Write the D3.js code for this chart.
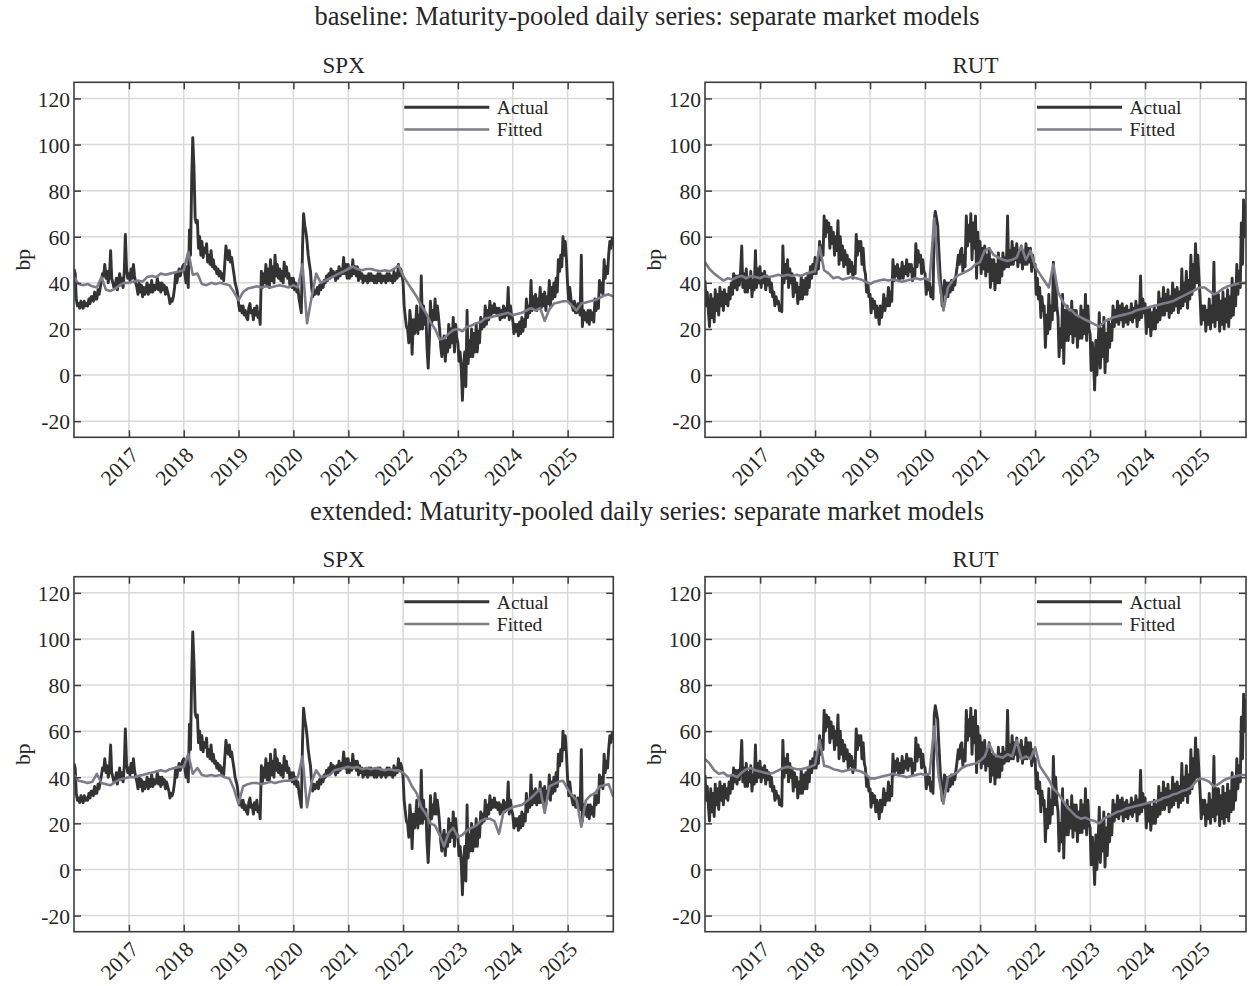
<!DOCTYPE html>
<html><head><meta charset="utf-8">
<script src="https://cdn.jsdelivr.net/npm/d3@7"></script>
<style>html,body{margin:0;padding:0;background:#fff;} svg{display:block;font-family:"Liberation Serif","Times New Roman",serif;}</style>
</head><body>
<script>
// ---- Data ----
// Actual series: four readings per month (≈weekly), Jan 2016 .. Oct 2025, plus end-of-Oct value
const actualSPX = [
46,44,33,30, 31,29,32,30, 29,32,30,31, 30,33,31,34, 34,32,36,33, 33,37,35,38, 41,44,43,48, 42,45,40,43, 54,42,40,38, 38,42,37,41, 44,39,42,38, 45,61,46,42,
44,41,46,42, 48,43,40,38, 35,40,36,39, 34,38,35,37, 40,35,39,36, 41,36,39,37, 38,42,37,40, 36,40,37,39, 35,38,36,34, 31,33,32,34, 38,44,40,43, 46,43,45,47,
48,44,40,47, 38,63,52,85, 103,90,68,66, 67,55,60,52, 58,51,55,53, 57,49,52,48, 54,47,50,46, 47,44,46,43, 45,42,44,41, 48,56,52,50, 54,49,51,47, 44,40,38,36,
31,28,30,27, 30,26,28,25, 24,29,31,27, 28,24,29,26, 30,25,27,22, 45,38,44,40, 48,39,46,38, 50,41,47,40, 52,43,48,42, 46,41,45,40, 49,43,47,42, 44,39,42,38,
42,37,40,36, 38,33,30,27, 55,70,65,62, 58,52,48,45, 38,34,37,35, 36,38,35,39, 37,40,38,41, 40,43,41,44, 42,46,43,45, 44,41,45,42, 47,43,46,44, 51,44,48,42,
48,42,46,43, 50,44,47,43, 47,41,45,42, 44,40,43,41, 43,40,44,41, 44,41,43,40, 43,40,44,41, 44,40,43,41, 43,40,44,41, 44,41,43,40, 45,41,44,42, 48,43,46,44,
40,30,25,21, 20,14,28,22, 9,24,18,22, 30,18,26,20, 43,20,30,22, 26,12,3,15, 32,22,28,24, 33,24,30,26, 20,12,8,14, 17,6,15,10, 22,12,20,14, 25,10,22,16,
14,6,10,2, -11,4,10,-5, 28,5,15,8, 20,8,18,10, 22,10,19,14, 25,20,24,21, 30,22,28,24, 32,26,30,27, 31,27,29,26, 29,24,28,25, 30,25,29,26, 38,24,30,26,
24,18,22,19, 22,17,23,18, 25,19,24,21, 33,25,30,27, 41,28,34,29, 35,28,33,29, 38,29,35,30, 36,28,34,31, 41,30,38,33, 40,34,42,36, 50,45,52,47, 60,52,58,50,
40,32,38,33, 30,28,32,27, 27,31,29,26, 52,21,28,24, 27,23,28,22, 28,24,27,23, 33,28,32,29, 41,36,40,35, 50,42,47,44, 52,58,55,59, 56
];
const actualRUT = [
41,30,36,27, 21,35,25,33, 23,37,28,35, 26,38,30,36, 28,37,31,35, 30,38,33,40, 35,44,38,43, 37,43,39,45, 56,38,44,36, 46,36,42,38, 45,34,41,37, 54,38,46,40,
47,38,44,40, 45,37,43,39, 42,36,40,34, 36,30,34,31, 32,28,30,27.5, 56,40,48,42, 50,38,46,40, 44,34,42,36, 40,31,38,33, 43,33,41,35, 42,35,44,38, 47,42,48,44,
51,44,50,46, 58,50,56,52, 69,60,67,62, 66,55,64,57, 62,52,60,54, 67,48,60,50, 56,47,54,48, 52,44,50,45, 49,42,47,44, 61,52,58,54, 58,48,55,46, 44,36,40,34,
35,27,33,29, 32,25,30,27, 22,30,25,28, 35,28,33,30, 38,30,36,32, 50,41,47,43, 48,41,46,42, 49,42,47,44, 50,43,48,45, 48,41,46,43, 57,47,54,49, 52,44,50,45,
44,35,41,37, 40,34,38,33, 67,71,68,65, 55,45,36,30, 36,41,35,40, 34,40,36,41, 37,41,39,43, 47,52,48,54, 55,45,52,47, 69,56,65,58, 70,50,66,55, 69,42,62,48,
58,44,55,46, 56,43,52,45, 55,38,50,41, 50,37,48,40, 53,40,50,43, 53,46,51,47, 69,47,54,48, 58,48,55,50, 57,47,54,49, 56,46,53,48, 57,48,55,49, 55,45,52,47,
48,35,42,33, 38,25,34,28, 30,12,26,18, 35,20,30,24, 49,28,40,30, 25,8,20,12, 35,5,28,15, 30,15,27,18, 32,14,28,17, 28,12,25,16, 30,16,28,18, 35,15,30,20,
18,2,14,6, -6.5,15,0,12, 27,3,20,8, 25,1,18,6, 24,12,22,15, 30,21,28,23, 32,22,30,24, 31,21,29,23, 30,22,28,24, 31,23,29,25, 32,21,30,24, 43,25,33,27,
31,18,28,21, 29,17,27,20, 30,20,28,23, 36,24,33,26, 38,26,35,28, 37,25,34,27, 40,28,37,30, 38,27,36,29, 46,30,40,32, 45,29,41,33, 52,35,48,38, 57,40,52,42,
34,22,30,24, 30,19,28,22, 33,20,30,23, 49,21,35,24, 35,19,32,22, 36,20,33,23, 37,21,34,25, 42,26,39,30, 48,35,45,38, 66,48,76,60, 74
];
// Fitted series: one reading per month, Jan 2016 .. Oct 2025, plus end-of-Oct value
const fittedSPXBaseline = [
42.5,39.5,39,39.5,38.5,38,42.5,37,36.5,37.5,39,40,
40,40.5,41,40.5,42.5,43,42.5,44,43.5,44,44.5,45,
45.5,53.5,43.5,44,39.5,39,40,39.5,40,39.5,39,36,
32.5,36,37.5,38,38.5,38,38.5,38,38.5,39,38.5,38,
39,38,48,22.5,34,44,40,41,42,43,44,45,
46,47,46,45.5,46,46,45.5,45,45.5,45,46,47.5,
43,40,37,34,30,27,23,20,15.5,16,18,19.5,
20,19,21,21.5,22.5,23,24.5,25,25.5,26,26.5,27,
26,26.5,27,28,29,28,29,23.5,28.5,31,31.5,32,
32,30,28,31,31.5,32,32.5,33.5,34.5,35, 34
];
const fittedRUTBaseline = [
49,46,44,42.5,41,42,41.5,42.5,43,42,43,42.5,
42,43,42.5,43,43.5,43,43.5,43,43.5,43,44,44.5,
45,55.5,45.5,44,42,42.5,41.5,42,42.5,42,41.5,40.5,
39.5,40.5,41,41.5,41,41.5,41,40.5,41,41.5,42,41.5,
42,41,68,42,28,38,41,43,44,45,46,48,
49,54,55,52,51,50,49.5,50,51,56,50,54,
47,44,41,38,48,36,32,29,28,26,25,24,
23,22,21,23,24,25,25.5,26,26.5,27,28,28.5,
29,29.5,30,30.5,31,31.5,32,33,34,35,36,37,
38,38,36.5,35,36,37.5,38.5,39,39.5,40, 40
];
const fittedSPXExtended = [
41,38.5,38,37.5,38,41.5,37.5,37,36.5,38,39,39.5,
40,40,40.5,41,41.5,42,42.5,43,42.5,43.5,44,44.5,
44.5,50,41.5,44,41,40.5,41,40.5,41,40,39.5,35,
28.5,36,37,37.5,37.5,37,37.5,38,37.5,38,38.5,38.5,
39,40,49,27,38,43,40,40.5,41,43,43.5,44,
44.5,44,44.5,43.5,44,43.5,44,43.5,43,43.5,43,43,
42,40,36,33,27,24,20,19,15,10,16,18,
14,15,17,18,19,21,22,22,21,15.5,25,26,
27,27.5,28,29.5,31,33,35,24.5,36,37,38,38.5,
35,32,30,18.5,30,32,33,36,36.5,37, 31.5
];
const fittedRUTExtended = [
48,46,43,41.5,42,40.5,41,40,42,43.5,44,43,
42.5,42,41.5,42,43,44,44.5,44,43.5,43.5,44,44.5,
45.5,56,45,44.5,43.5,43,42.5,43,43.5,43,42.5,41.5,
39.5,39.5,40,40.5,41,41.5,41,40.5,40,40.5,41,41.5,
41,41.5,62,40,28.5,40,41,42,44,45,45.5,46,
47,49,54.5,50,49,48.5,50,49,56,48,49,48,
53,45,42,39,35,33,30,27,25,23,22,22.5,
21.5,21,20,22,23,24,25,25.5,26.5,27,27.5,28,
28.5,29,29.5,30,31,31.5,32.5,33,34,34.5,35.5,38,
39.5,39,38,36,37,38.5,39.5,40,40.5,41, 41
];
const yTicks = [-20, 0, 20, 40, 60, 80, 100, 120];
const yearTicks = [2017, 2018, 2019, 2020, 2021, 2022, 2023, 2024, 2025];
const rowTitles = ["baseline: Maturity-pooled daily series: separate market models",
                   "extended: Maturity-pooled daily series: separate market models"];
const marketNames = ["SPX", "RUT"];
const legendLabels = ["Actual", "Fitted"];

// ---- Dates ----
const start = new Date(2016, 0, 1);
const weekDates = actualSPX.map((_, i) => d3.timeDay.offset(start, Math.round(i * 365.25 / 48)));
const monthDates = fittedSPXBaseline.map((_, i) => d3.timeDay.offset(start, Math.round(i * 365.25 / 12)));

// ---- Layout ----
const W = 1249, H = 986;
const FONT = "Liberation Serif";
const cols = [[74, 613.3], [705, 1246]];
const rows = [[82.3, 437.3], [576.7, 931.7]];
const C_ACT = "#333333", C_FIT = "#7d7c89", C_GRID = "#d9d9d9", C_AX = "#3d3d3d", C_TXT = "#262626";

const svg = d3.select("body").append("svg").attr("width", W).attr("height", H)
  .attr("font-family", FONT);

const panels = [
  {r:0, c:0, a:actualSPX, f:fittedSPXBaseline},
  {r:0, c:1, a:actualRUT, f:fittedRUTBaseline},
  {r:1, c:0, a:actualSPX, f:fittedSPXExtended},
  {r:1, c:1, a:actualRUT, f:fittedRUTExtended}
];

rowTitles.forEach((t, r) => {
  svg.append("text").attr("x", 647).attr("y", r === 0 ? 24.5 : 519.5)
    .attr("text-anchor", "middle").attr("font-family", FONT).attr("font-size", 26.5).attr("fill", C_TXT).text(t);
});

panels.forEach((p, k) => {
  const [x0, x1] = cols[p.c], [y0, y1] = rows[p.r];
  const x = d3.scaleTime().domain([start, weekDates[weekDates.length - 1]]).range([x0, x1]);
  const y = d3.scaleLinear().domain([-27, 127]).range([y1, y0]);
  const g = svg.append("g");
  const yearDates = yearTicks.map(yr => new Date(yr, 0, 1));

  // grid
  g.append("g").selectAll("line").data(yTicks).join("line")
    .attr("x1", x0).attr("x2", x1).attr("y1", d => y(d)).attr("y2", d => y(d))
    .attr("stroke", C_GRID).attr("stroke-width", 1.5);
  g.append("g").selectAll("line").data(yearDates).join("line")
    .attr("x1", d => x(d)).attr("x2", d => x(d)).attr("y1", y0).attr("y2", y1)
    .attr("stroke", C_GRID).attr("stroke-width", 1.5);

  // clip
  const cid = "clip" + k;
  svg.append("clipPath").attr("id", cid).append("rect")
    .attr("x", x0).attr("y", y0).attr("width", x1 - x0).attr("height", y1 - y0);
  const plot = g.append("g").attr("clip-path", `url(#${cid})`);
  plot.append("path").datum(p.a.map((v, i) => [weekDates[i], v]))
    .attr("d", d3.line().x(d => x(d[0])).y(d => y(d[1])))
    .attr("fill", "none").attr("stroke", C_ACT).attr("stroke-width", 2.9).attr("stroke-linejoin", "round");
  plot.append("path").datum(p.f.map((v, i) => [monthDates[i], v]))
    .attr("d", d3.line().x(d => x(d[0])).y(d => y(d[1])))
    .attr("fill", "none").attr("stroke", C_FIT).attr("stroke-width", 2.6).attr("stroke-linejoin", "round");

  // axes (inside ticks on all four sides)
  const tl = 7;
  const axL = d3.axisLeft(y).tickValues(yTicks).tickSize(-tl).tickPadding(tl + 4).tickFormat(d => String(d));
  const gL = g.append("g").attr("transform", `translate(${x0},0)`).call(axL);
  const axR = d3.axisRight(y).tickValues(yTicks).tickSize(-tl).tickFormat("");
  const gR = g.append("g").attr("transform", `translate(${x1},0)`).call(axR);
  const axT = d3.axisTop(x).tickValues(yearDates).tickSize(-tl).tickFormat("");
  const gT = g.append("g").attr("transform", `translate(0,${y0})`).call(axT);
  const axB = d3.axisBottom(x).tickValues(yearDates).tickSize(-tl).tickFormat("");
  const gB = g.append("g").attr("transform", `translate(0,${y1})`).call(axB);
  [gL, gR, gT, gB].forEach(a => {
    a.attr("font-family", FONT);
    a.select(".domain").remove();
    a.selectAll(".tick line").attr("stroke", C_AX).attr("stroke-width", 1.5);
  });
  gL.selectAll(".tick text").attr("font-size", 21.5).attr("fill", C_TXT)
    .attr("font-family", FONT).attr("dy", "0.36em").attr("x", -4);
  // frame
  g.append("rect").attr("x", x0).attr("y", y0).attr("width", x1 - x0).attr("height", y1 - y0)
    .attr("fill", "none").attr("stroke", C_AX).attr("stroke-width", 1.6);

  // rotated year labels
  g.append("g").selectAll("text").data(yearDates).join("text")
    .attr("transform", d => `translate(${x(d) + 11},${y1 + 19}) rotate(-45)`)
    .attr("text-anchor", "end").attr("font-family", FONT).attr("font-size", 21.5).attr("fill", C_TXT)
    .text(d => d.getFullYear());

  // y label
  g.append("text").attr("transform", `translate(${x0 - 52},${(y0 + y1) / 2}) rotate(-90)`)
    .attr("text-anchor", "middle").attr("dy", "0.35em").attr("font-family", FONT)
    .attr("font-size", 21.5).attr("fill", C_TXT).text("bp");

  // panel title
  g.append("text").attr("x", (x0 + x1) / 2).attr("y", y0 - 9.5).attr("text-anchor", "middle")
    .attr("font-family", FONT).attr("font-size", 23).attr("fill", C_TXT).text(marketNames[p.c]);

  // legend
  const lg = g.append("g");
  [C_ACT, C_FIT].forEach((col, j) => {
    const ly = y0 + 25 + j * 22.3;
    lg.append("line").attr("x1", x1 - 209).attr("x2", x1 - 124).attr("y1", ly).attr("y2", ly)
      .attr("stroke", col).attr("stroke-width", j === 0 ? 3 : 2.5);
    lg.append("text").attr("x", x1 - 116.5).attr("y", ly).attr("dy", "0.35em")
      .attr("font-family", FONT).attr("font-size", 19.5).attr("fill", C_TXT).text(legendLabels[j]);
  });
});
</script>
</body></html>
